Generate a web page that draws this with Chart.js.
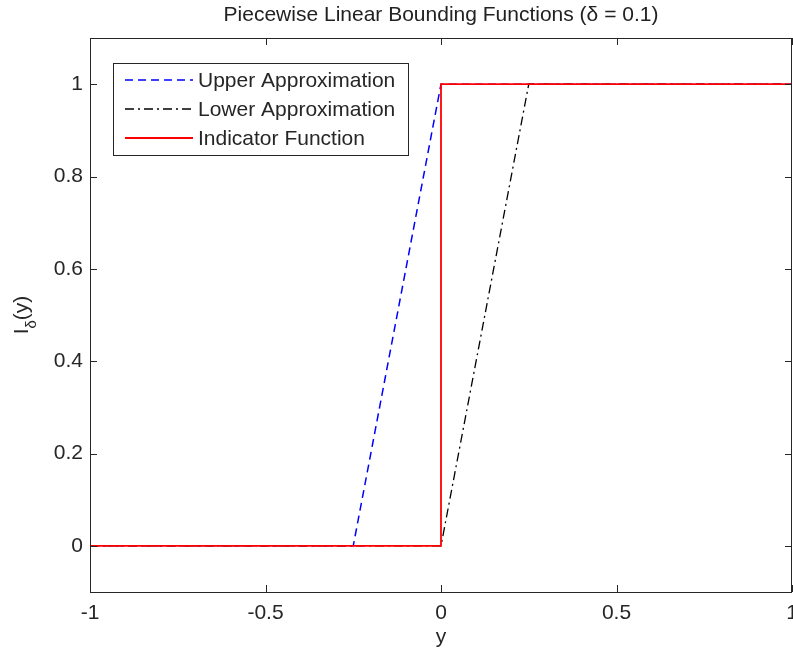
<!DOCTYPE html>
<html>
<head>
<meta charset="utf-8">
<script src="https://cdn.jsdelivr.net/npm/chart.js@4.4.1/dist/chart.umd.min.js"></script>
<style>
  body { margin: 0; background: #fff; }
  canvas { display: block; }
</style>
</head>
<body>
<canvas id="chart" width="793" height="654"></canvas>
<script>
// data
const xUpper = [-1, -0.25, 0, 1]
const yUpper = [0, 0, 1, 1]
const xLower = [-1, 0, 0.25, 1]
const yLower = [0, 0, 1, 1]
const xIndicator = [-1, 0, 0, 1]
const yIndicator = [0, 0, 1, 1]

const xTicks = [-1, -0.5, 0, 0.5, 1]
const yTicks = [0, 0.2, 0.4, 0.6, 0.8, 1]
const seriesNames = ["Upper Approximation", "Lower Approximation", "Indicator Function"]

const axisColor = "#262626"
const fontFamily = "'Liberation Sans', Arial, sans-serif"
const fontPx = 21

Chart.defaults.font.family = fontFamily
Chart.defaults.font.size = fontPx
Chart.defaults.color = axisColor

function toPoints(xs, ys) {
    return xs.map((x, i) => ({ x: x, y: ys[i] }))
}

// frame, inward ticks, legend box, title and axis labels
const decorations = {
    id: "decorations",
    afterDraw(chart) {
        const ctx = chart.ctx
        const a = chart.chartArea
        const xs = chart.scales.x
        const ys = chart.scales.y
        const tickLen = 7
        const font = fontPx + "px " + fontFamily
        const smallFont = "15px " + fontFamily

        ctx.save()
        ctx.strokeStyle = axisColor
        ctx.lineWidth = 1
        ctx.setLineDash([])
        ctx.strokeRect(a.left + 0.5, a.top + 0.5, a.right - a.left - 1, a.bottom - a.top)

        ctx.beginPath()
        xs.ticks.forEach(t => {
            const px = Math.round(xs.getPixelForValue(t.value)) + 0.5
            ctx.moveTo(px, a.bottom)
            ctx.lineTo(px, a.bottom - tickLen)
            ctx.moveTo(px, a.top)
            ctx.lineTo(px, a.top + tickLen)
        })
        ys.ticks.forEach(t => {
            const py = Math.round(ys.getPixelForValue(t.value)) + 0.5
            ctx.moveTo(a.left, py)
            ctx.lineTo(a.left + tickLen, py)
            ctx.moveTo(a.right, py)
            ctx.lineTo(a.right - tickLen, py)
        })
        ctx.stroke()

        // legend
        const box = { left: 113.5, top: 63.5, width: 295, height: 92 }
        ctx.fillStyle = "#fff"
        ctx.fillRect(box.left, box.top, box.width, box.height)
        ctx.strokeStyle = axisColor
        ctx.strokeRect(box.left, box.top, box.width, box.height)
        const rows = [80, 109, 138]
        const sets = chart.data.datasets
        ctx.font = font
        ctx.textBaseline = "middle"
        ctx.textAlign = "left"
        sets.forEach((ds, i) => {
            ctx.beginPath()
            ctx.strokeStyle = ds.borderColor
            ctx.lineWidth = ds.borderWidth
            ctx.setLineDash(ds.borderDash || [])
            ctx.moveTo(125, rows[i])
            ctx.lineTo(193, rows[i])
            ctx.stroke()
            ctx.fillStyle = axisColor
            ctx.fillText(ds.label, 198, rows[i] + 1)
        })
        ctx.setLineDash([])

        // title
        const cx = (a.left + a.right) / 2
        ctx.textAlign = "center"
        ctx.textBaseline = "alphabetic"
        ctx.fillStyle = "#222"
        ctx.fillText("Piecewise Linear Bounding Functions (\u03b4 = 0.1)", cx, 21)

        // x label
        ctx.fillStyle = axisColor
        ctx.fillText("y", cx, 643)

        // y label: I with subscript delta, then (y)
        const cy = (a.top + a.bottom) / 2
        ctx.save()
        ctx.translate(28, cy)
        ctx.rotate(-Math.PI / 2)
        ctx.textAlign = "left"
        const wI = ctx.measureText("I").width
        ctx.font = smallFont
        const wD = ctx.measureText("\u03b4").width
        ctx.font = font
        const wY = ctx.measureText("(y)").width
        let x0 = -(wI + wD + wY) / 2
        ctx.fillText("I", x0, 0)
        ctx.font = smallFont
        ctx.fillText("\u03b4", x0 + wI, 8)
        ctx.font = font
        ctx.fillText("(y)", x0 + wI + wD, 0)
        ctx.restore()

        ctx.restore()
    }
}

new Chart(document.getElementById("chart"), {
    type: "scatter",
    data: {
        datasets: [
            {
                label: seriesNames[0],
                data: toPoints(xUpper, yUpper),
                showLine: true,
                borderColor: "#0000ff",
                borderWidth: 1.5,
                borderDash: [8, 5],
                pointRadius: 0,
                order: 2
            },
            {
                label: seriesNames[1],
                data: toPoints(xLower, yLower),
                showLine: true,
                borderColor: "#000000",
                borderWidth: 1.3,
                borderDash: [9, 4, 2, 4],
                pointRadius: 0,
                order: 1
            },
            {
                label: seriesNames[2],
                data: toPoints(xIndicator, yIndicator),
                showLine: true,
                borderColor: "#ff0000",
                borderWidth: 1.8,
                pointRadius: 0,
                order: 0
            }
        ]
    },
    options: {
        responsive: false,
        animation: false,
        layout: { padding: { top: 38, right: 1, left: 0, bottom: 0 } },
        plugins: {
            legend: { display: false },
            title: { display: false },
            tooltip: { enabled: false }
        },
        scales: {
            x: {
                type: "linear",
                min: -1,
                max: 1,
                afterBuildTicks: s => { s.ticks = xTicks.map(v => ({ value: v })) },
                afterFit: s => { s.height = 62; s.paddingLeft = 0; s.paddingRight = 0 },
                grid: { display: false, drawTicks: false },
                border: { display: false },
                ticks: { padding: 9, maxRotation: 0, autoSkip: false, callback: v => String(v) }
            },
            y: {
                type: "linear",
                min: -0.1,
                max: 1.1,
                afterBuildTicks: s => { s.ticks = yTicks.map(v => ({ value: v })) },
                afterFit: s => { s.width = 90; s.paddingTop = 0; s.paddingBottom = 0 },
                grid: { display: false, drawTicks: false },
                border: { display: false },
                ticks: { padding: 7, autoSkip: false, callback: v => String(v) }
            }
        }
    },
    plugins: [decorations]
})
</script>
</body>
</html>
